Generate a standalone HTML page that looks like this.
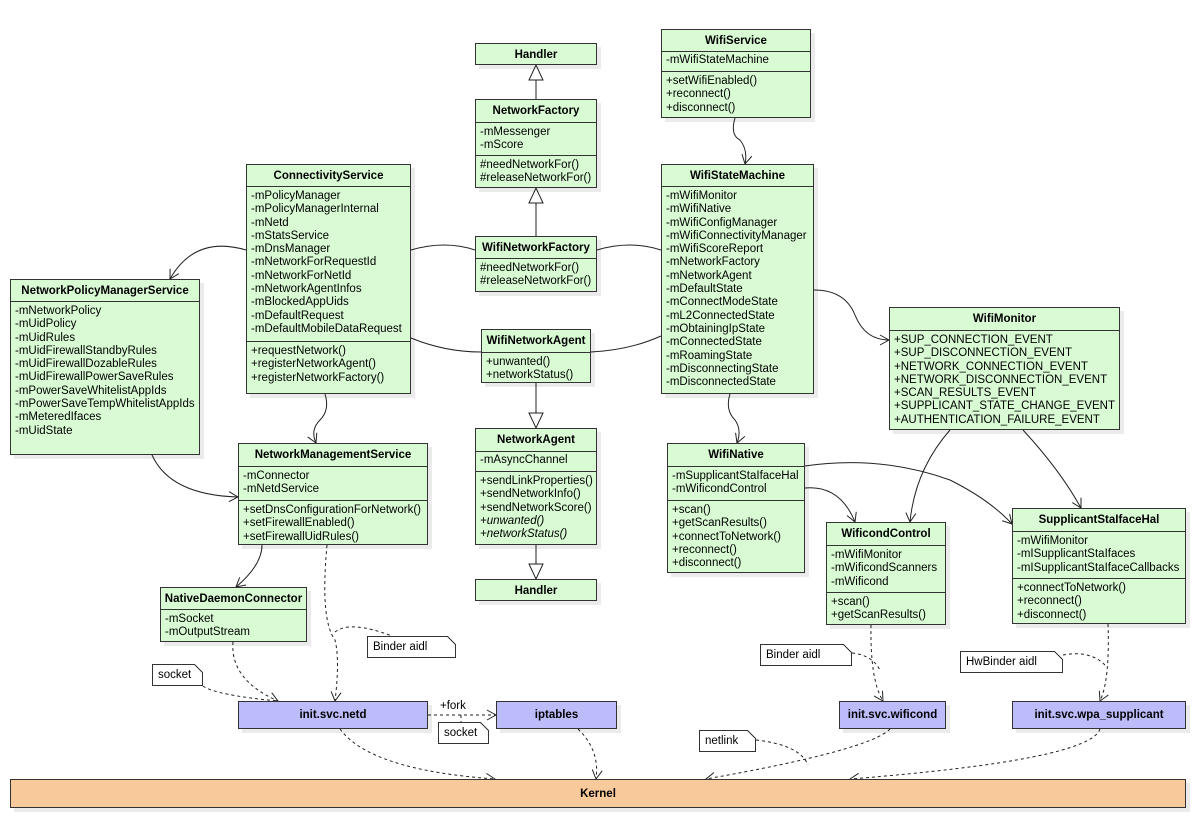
<!DOCTYPE html>
<html><head><meta charset="utf-8"><style>
body{margin:0;width:1200px;height:826px;background:#fff;position:relative;overflow:hidden;font-family:"Liberation Sans",sans-serif;font-size:11.5px;color:#000}
.b{position:absolute;background:#d9fbd4;border:1px solid #333;box-sizing:border-box;box-shadow:4px 4px 0 rgba(0,0,0,0.08)}
.t{font-weight:bold;text-align:center;border-bottom:1px solid #333;box-sizing:border-box;display:flex;align-items:center;justify-content:center}
.s{border-bottom:1px solid #333;box-sizing:border-box;padding:3px 4px 0 4px;line-height:13.3px;white-space:nowrap}
.s:last-child{border-bottom:none}
.p{background:#bcbcfb}
.k{background:#f8c99a}
.n{position:absolute;background:#fff;border:1px solid #333;box-sizing:border-box;padding:3px 5px;line-height:14px;white-space:nowrap}
.n:after{content:"";position:absolute;right:-1px;top:-1px;width:9px;height:9px;background:linear-gradient(45deg,#fff 45%,#333 45%,#333 55%,#fff 55%) ;}
svg{position:absolute;left:0;top:0}
</style></head><body>
<svg width="1200" height="826">
<defs>
<marker id="a" markerWidth="12" markerHeight="12" refX="10" refY="6" orient="auto" markerUnits="userSpaceOnUse"><path d="M1,1 L10,6 L1,11" fill="none" stroke="#222" stroke-width="1"/></marker>
<marker id="tri" markerWidth="18" markerHeight="18" refX="16" refY="8" orient="auto" markerUnits="userSpaceOnUse"><path d="M1,1 L16,8 L1,15 Z" fill="#fff" stroke="#222" stroke-width="1"/></marker>
</defs>
<g fill="none" stroke="#222" stroke-width="1">
<path d="M536,99 V65" marker-end="url(#tri)"/>
<path d="M536,236 V188" marker-end="url(#tri)"/>
<path d="M536,383 V428" marker-end="url(#tri)"/>
<path d="M536,545 V579" marker-end="url(#tri)"/>
<path d="M411,250 Q445,240 475,250"/>
<path d="M597,250 Q630,240 661,250"/>
<path d="M411,338 Q445,352 481,352"/>
<path d="M591,352 Q630,350 661,336"/>
<path d="M246,250 Q195,235 170,279" marker-end="url(#a)"/>
<path d="M325,394 Q330,410 320,420 Q310,430 316,443" marker-end="url(#a)"/>
<path d="M152,455 Q170,495 238,497" marker-end="url(#a)"/>
<path d="M262,545 Q262,565 236,587" marker-end="url(#a)"/>
<path d="M735,118 Q730,135 740,140 Q748,150 745,164" marker-end="url(#a)"/>
<path d="M730,394 Q725,410 735,420 Q742,430 737,443" marker-end="url(#a)"/>
<path d="M814,290 Q845,290 855,315 Q865,340 889,340" marker-end="url(#a)"/>
<path d="M805,466 Q880,455 950,480 Q990,500 1012,524" marker-end="url(#a)"/>
<path d="M805,488 Q840,485 855,522" marker-end="url(#a)"/>
<path d="M950,430 Q915,470 910,522" marker-end="url(#a)"/>
<path d="M1023,430 Q1060,470 1081,508" marker-end="url(#a)"/>
</g>
<g fill="none" stroke="#222" stroke-width="1" stroke-dasharray="3,3">
<path d="M233,642 Q230,680 278,701" marker-end="url(#a)"/>
<path d="M203,686 Q215,695 278,701"/>
<path d="M327,545 Q320,620 335,640 Q340,660 335,701" marker-end="url(#a)"/>
<path d="M335,632 Q350,620 392,636"/>
<path d="M428,715 H496" marker-end="url(#a)"/>
<path d="M461,715 V722"/>
<path d="M340,729 Q370,770 495,779" marker-end="url(#a)"/>
<path d="M578,729 Q600,750 596,779" marker-end="url(#a)"/>
<path d="M871,625 Q870,680 883,701" marker-end="url(#a)"/>
<path d="M852,653 Q872,655 880,670"/>
<path d="M1108,624 Q1110,680 1100,701" marker-end="url(#a)"/>
<path d="M1063,655 Q1090,650 1105,665"/>
<path d="M890,729 Q870,750 706,779" marker-end="url(#a)"/>
<path d="M756,740 Q800,745 808,765"/>
<path d="M1100,729 Q1090,760 850,779" marker-end="url(#a)"/>
</g>
<text x="440" y="709" font-family="Liberation Sans" font-size="11.5">+fork</text>
</svg>

<div class="b" style="left:475px;top:43px;width:122px;height:22px"><div class="t" style="height:21px;border:none">Handler</div></div>
<div class="b" style="left:475px;top:99px;width:122px;height:89px"><div class="t" style="height:23px">NetworkFactory</div><div class="s" style="height:33px">-mMessenger<br>-mScore</div><div class="s">#needNetworkFor()<br>#releaseNetworkFor()</div></div>
<div class="b" style="left:661px;top:29px;width:150px;height:89px"><div class="t" style="height:22px">WifiService</div><div class="s" style="height:20px;padding-top:2px">-mWifiStateMachine</div><div class="s">+setWifiEnabled()<br>+reconnect()<br>+disconnect()</div></div>
<div class="b" style="left:246px;top:164px;width:165px;height:230px"><div class="t" style="height:22px">ConnectivityService</div><div class="s" style="height:155px">-mPolicyManager<br>-mPolicyManagerInternal<br>-mNetd<br>-mStatsService<br>-mDnsManager<br>-mNetworkForRequestId<br>-mNetworkForNetId<br>-mNetworkAgentInfos<br>-mBlockedAppUids<br>-mDefaultRequest<br>-mDefaultMobileDataRequest</div><div class="s">+requestNetwork()<br>+registerNetworkAgent()<br>+registerNetworkFactory()</div></div>
<div class="b" style="left:475px;top:236px;width:122px;height:56px"><div class="t" style="height:22px">WifiNetworkFactory</div><div class="s">#needNetworkFor()<br>#releaseNetworkFor()</div></div>
<div class="b" style="left:481px;top:329px;width:110px;height:54px"><div class="t" style="height:23px">WifiNetworkAgent</div><div class="s">+unwanted()<br>+networkStatus()</div></div>
<div class="b" style="left:661px;top:164px;width:153px;height:230px"><div class="t" style="height:22px">WifiStateMachine</div><div class="s">-mWifiMonitor<br>-mWifiNative<br>-mWifiConfigManager<br>-mWifiConnectivityManager<br>-mWifiScoreReport<br>-mNetworkFactory<br>-mNetworkAgent<br>-mDefaultState<br>-mConnectModeState<br>-mL2ConnectedState<br>-mObtainingIpState<br>-mConnectedState<br>-mRoamingState<br>-mDisconnectingState<br>-mDisconnectedState</div></div>
<div class="b" style="left:10px;top:279px;width:190px;height:176px"><div class="t" style="height:22px">NetworkPolicyManagerService</div><div class="s">-mNetworkPolicy<br>-mUidPolicy<br>-mUidRules<br>-mUidFirewallStandbyRules<br>-mUidFirewallDozableRules<br>-mUidFirewallPowerSaveRules<br>-mPowerSaveWhitelistAppIds<br>-mPowerSaveTempWhitelistAppIds<br>-mMeteredIfaces<br>-mUidState</div></div>
<div class="b" style="left:889px;top:307px;width:231px;height:123px"><div class="t" style="height:23px">WifiMonitor</div><div class="s">+SUP_CONNECTION_EVENT<br>+SUP_DISCONNECTION_EVENT<br>+NETWORK_CONNECTION_EVENT<br>+NETWORK_DISCONNECTION_EVENT<br>+SCAN_RESULTS_EVENT<br>+SUPPLICANT_STATE_CHANGE_EVENT<br>+AUTHENTICATION_FAILURE_EVENT</div></div>
<div class="b" style="left:238px;top:443px;width:190px;height:102px"><div class="t" style="height:23px">NetworkManagementService</div><div class="s" style="height:34px">-mConnector<br>-mNetdService</div><div class="s">+setDnsConfigurationForNetwork()<br>+setFirewallEnabled()<br>+setFirewallUidRules()</div></div>
<div class="b" style="left:475px;top:428px;width:122px;height:117px"><div class="t" style="height:23px">NetworkAgent</div><div class="s" style="height:20px;padding-top:2px">-mAsyncChannel</div><div class="s">+sendLinkProperties()<br>+sendNetworkInfo()<br>+sendNetworkScore()<br><i>+unwanted()</i><br><i>+networkStatus()</i></div></div>
<div class="b" style="left:475px;top:579px;width:122px;height:22px"><div class="t" style="height:21px;border:none">Handler</div></div>
<div class="b" style="left:667px;top:443px;width:138px;height:130px"><div class="t" style="height:23px">WifiNative</div><div class="s" style="height:34px">-mSupplicantStaIfaceHal<br>-mWificondControl</div><div class="s">+scan()<br>+getScanResults()<br>+connectToNetwork()<br>+reconnect()<br>+disconnect()</div></div>
<div class="b" style="left:826px;top:522px;width:120px;height:103px"><div class="t" style="height:23px">WificondControl</div><div class="s" style="height:47px">-mWifiMonitor<br>-mWificondScanners<br>-mWificond</div><div class="s">+scan()<br>+getScanResults()</div></div>
<div class="b" style="left:1012px;top:508px;width:174px;height:116px"><div class="t" style="height:23px">SupplicantStaIfaceHal</div><div class="s" style="height:47px">-mWifiMonitor<br>-mISupplicantStaIfaces<br>-mISupplicantStaIfaceCallbacks</div><div class="s">+connectToNetwork()<br>+reconnect()<br>+disconnect()</div></div>
<div class="b" style="left:160px;top:587px;width:147px;height:55px"><div class="t" style="height:22px">NativeDaemonConnector</div><div class="s">-mSocket<br>-mOutputStream</div></div>
<div class="b p" style="left:238px;top:701px;width:190px;height:28px"><div class="t" style="height:26px;border:none">init.svc.netd</div></div>
<div class="b p" style="left:496px;top:701px;width:121px;height:28px"><div class="t" style="height:26px;border:none">iptables</div></div>
<div class="b p" style="left:839px;top:701px;width:107px;height:28px"><div class="t" style="height:26px;border:none">init.svc.wificond</div></div>
<div class="b p" style="left:1012px;top:701px;width:174px;height:28px"><div class="t" style="height:26px;border:none">init.svc.wpa_supplicant</div></div>
<div class="b k" style="left:10px;top:779px;width:1176px;height:29px"><div class="t" style="height:27px;border:none">Kernel</div></div>
<div class="n" style="left:152px;top:664px;width:51px;height:22px">socket</div>
<div class="n" style="left:367px;top:636px;width:89px;height:22px">Binder aidl</div>
<div class="n" style="left:438px;top:722px;width:51px;height:22px">socket</div>
<div class="n" style="left:760px;top:644px;width:92px;height:22px">Binder aidl</div>
<div class="n" style="left:960px;top:651px;width:103px;height:22px">HwBinder aidl</div>
<div class="n" style="left:699px;top:730px;width:57px;height:22px">netlink</div>
</body></html>
